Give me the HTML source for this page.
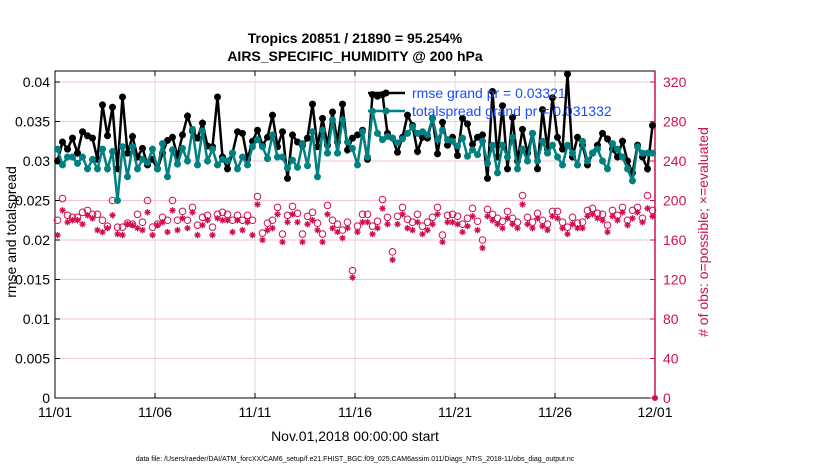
<!DOCTYPE html>
<html><head><meta charset="utf-8"><style>
body{margin:0;background:#fff;}
svg{font-family:"Liberation Sans",sans-serif;}
</style></head><body>
<svg id="chart" width="830" height="470" xmlns="http://www.w3.org/2000/svg">
<text x="355" y="43" text-anchor="middle" font-size="14" font-weight="bold">Tropics 20851 / 21890 = 95.254%</text>
<text x="355" y="61" text-anchor="middle" font-size="14" font-weight="bold">AIRS_SPECIFIC_HUMIDITY @ 200 hPa</text>
<g id="grid"></g>
<g id="axes"></g>
<g id="marks"></g>
<text x="355" y="441" text-anchor="middle" font-size="14">Nov.01,2018 00:00:00 start</text>
<text x="355" y="461" text-anchor="middle" font-size="7">data file: /Users/raeder/DAI/ATM_forcXX/CAM6_setup/f.e21.FHIST_BGC.f09_025.CAM6assim.011/Diags_NTrS_2018-11/obs_diag_output.nc</text>
<text transform="translate(16,232) rotate(-90)" text-anchor="middle" font-size="14">rmse and totalspread</text>
<text transform="translate(708,232) rotate(-90)" text-anchor="middle" font-size="14" fill="#d0104c"># of obs: o=possible; ×=evaluated</text>
<g>
<line x1="368" y1="93" x2="405" y2="93" stroke="#000" stroke-width="2.5"/>
<circle cx="386" cy="93" r="3.5" fill="#000"/>
<text x="412" y="98" font-size="14" fill="#1a4cff">rmse grand pr = 0.03321</text>
<line x1="368" y1="111" x2="405" y2="111" stroke="#008080" stroke-width="2.5"/>
<circle cx="386" cy="111" r="3.5" fill="#008080"/>
<text x="412" y="116" font-size="14" fill="#1a4cff">totalspread grand pr = 0.031332</text>
</g>
</svg>
<script>
const rmse=[30.0,32.4,31.5,32.9,31.0,33.7,33.2,32.9,30.2,37.1,33.2,36.8,29.0,38.1,31.0,33.1,30.5,31.6,29.5,30.2,29.0,31.0,32.6,33.0,30.6,33.3,35.7,33.8,32.9,34.8,31.9,31.8,38.1,30.5,29.0,31.0,33.7,33.5,30.2,32.5,
33.9,32.0,33.0,35.8,31.8,33.7,27.8,33.3,32.4,32.0,32.9,37.2,31.8,35.4,32.0,36.2,32.4,37.2,31.4,32.9,33.3,33.9,30.2,
38.4,38.2,38.4,33.5,32.9,31.1,33.0,35.8,34.5,31.2,33.0,32.9,35.4,30.9,34.9,32.0,33.0,30.7,35.4,34.7,32.1,33.0,33.3,27.8,
38.8,30.5,37.0,29.0,35.5,30.0,34.0,31.0,33.5,29.0,36.5,31.5,38.0,33.0,31.5,41.0,30.5,33.0,32.0,29.5,31.0,32.0,33.5,32.8,31.5,30.5,32.5,30.0,28.5,32.0,30.5,29.0,34.5];
const spread=[31.5,29.5,30.5,30.5,29.7,30.5,29.0,30.2,29.0,31.5,29.0,31.2,25.0,31.8,28.0,31.8,29.0,30.2,29.8,31.5,29.0,32.2,28.0,31.4,29.6,31.6,30.0,34.0,29.5,33.8,30.0,31.5,29.5,30.2,30.0,31.0,29.0,30.5,29.5,31.8,
32.7,31.8,30.3,33.3,30.5,30.5,29.1,30.1,29.2,32.2,29.4,33.7,28.0,33.9,31.0,35.2,31.0,35.2,32.4,31.6,29.5,33.7,30.5,
36.3,33.5,32.7,33.1,32.9,32.3,32.8,33.5,34.3,33.5,33.7,33.3,35.4,32.7,33.9,32.7,32.5,31.9,32.9,30.6,31.4,30.8,32.5,29.7,
32.0,28.5,32.0,30.5,33.0,29.0,31.5,30.0,33.5,30.0,32.5,31.0,32.0,30.5,29.5,32.0,31.0,29.5,32.5,30.0,31.0,31.5,30.0,29.0,32.2,31.5,30.5,29.0,27.5,31.8,31.0,31.0,31.0];
const possible=[180,202,185,183,183,188,190,186,186,180,174,200,173,173,177,176,186,178,200,173,176,183,180,200,180,189,180,193,175,183,185,173,186,188,186,180,185,180,185,180,
204,167,177,180,193,166,185,194,187,166,184,188,177,166,195,180,176,170,178,129,174,186,186,
174,179,201,183,148,184,193,181,178,186,174,178,183,193,165,185,186,184,176,182,192,179,160,191,
186,182,179,189,182,178,205,183,178,187,180,176,189,189,178,173,183,177,178,190,192,187,186,175,190,185,193,180,190,193,182,205,190];
const evaluated=[165,190,178,180,180,176,185,182,170,168,172,185,166,165,176,175,172,170,188,165,175,178,168,190,170,182,172,188,165,175,180,165,182,180,180,168,180,170,178,165,
196,160,170,172,186,158,178,186,178,158,176,180,170,158,186,172,168,162,172,122,168,178,178,
166,172,192,176,140,176,186,172,170,178,166,170,176,186,158,178,178,176,168,174,184,170,152,184,
180,176,172,182,176,172,196,176,172,182,174,170,184,182,172,166,176,172,172,184,186,182,180,168,184,180,188,175,182,188,178,192,184];
const xLabels=["11/01","11/06","11/11","11/16","11/21","11/26","12/01"];
const leftTicks=[0,0.005,0.01,0.015,0.02,0.025,0.03,0.035,0.04];
const rightTicks=[0,40,80,120,160,200,240,280,320];

const X0=55,X1=655,Y0=398,YT=71;
const NS="http://www.w3.org/2000/svg";
const xDay=d=>X0+d*(X1-X0)/30;
const xIdx=i=>xDay((i+0.5)/4);
const yL=v=>Y0-v*7900;
const yR=n=>Y0-n*0.9875;
function mk(tag,attrs,parent){const e=document.createElementNS(NS,tag);for(const k in attrs)e.setAttribute(k,attrs[k]);parent.appendChild(e);return e;}
const grid=document.getElementById('grid'),axes=document.getElementById('axes'),marks=document.getElementById('marks');

rightTicks.forEach(t=>{if(t===0)return;const l=mk('line',{x1:X0,x2:X1,y1:yR(t),y2:yR(t),stroke:'#f2c6d4','stroke-width':1},grid);

});
xLabels.forEach((s,k)=>{const x=xDay(k*5);
if(k>0&&k<6){const l=mk('line',{x1:x,x2:x,y1:YT,y2:Y0,stroke:'#dcdcdc','stroke-width':1},grid);

}
mk('line',{x1:x,x2:x,y1:Y0,y2:Y0-5,stroke:'#000'},axes);
mk('line',{x1:x,x2:x,y1:YT,y2:YT+5,stroke:'#000'},axes);
const t=mk('text',{x:x,y:Y0+19,'text-anchor':'middle','font-size':14},axes);t.textContent=s;

});
mk('rect',{x:X0,y:YT,width:X1-X0,height:Y0-YT,fill:'none',stroke:'#000','stroke-width':1},axes);
mk('line',{x1:X1,x2:X1,y1:YT,y2:Y0,stroke:'#d0104c','stroke-width':1.5},axes);
leftTicks.forEach(v=>{const y=yL(v);mk('line',{x1:X0,x2:X0+5,y1:y,y2:y,stroke:'#000'},axes);
const t=mk('text',{x:X0-5,y:y+5,'text-anchor':'end','font-size':14},axes);t.textContent=String(v);

});
rightTicks.forEach(v=>{const y=yR(v);mk('line',{x1:X1,x2:X1-5,y1:y,y2:y,stroke:'#d0104c'},axes);
const t=mk('text',{x:X1+8,y:y+5,'font-size':14,fill:'#d0104c'},axes);t.textContent=String(v);

});

possible.forEach((n,i)=>{const c=mk('circle',{cx:xIdx(i),cy:yR(n),r:3.3,fill:'none',stroke:'#d0104c','stroke-width':1},marks);

});
evaluated.forEach((n,i)=>{const cx=xIdx(i),cy=yR(n),r=3.2;
const d=`M${cx-r},${cy}H${cx+r}M${cx},${cy-r}V${cy+r}M${cx-r*0.7},${cy-r*0.7}L${cx+r*0.7},${cy+r*0.7}M${cx-r*0.7},${cy+r*0.7}L${cx+r*0.7},${cy-r*0.7}`;
const p=mk('path',{d:d,stroke:'#d0104c','stroke-width':1.3,fill:'none'},marks);

});
const z=mk('circle',{cx:X1,cy:Y0,r:3,fill:'#d0104c'},marks);



function series(arr,color,name){
const p=mk('polyline',{points:arr.map((v,i)=>xIdx(i)+','+yL(v/1000)).join(' '),fill:'none',stroke:color,'stroke-width':2.5},marks);


arr.forEach((v,i)=>{const c=mk('circle',{cx:xIdx(i),cy:yL(v/1000),r:3.5,fill:color},marks);

});}
series(rmse,'#000','rmse');
series(spread,'#008080','spread');
</script>
</body></html>
